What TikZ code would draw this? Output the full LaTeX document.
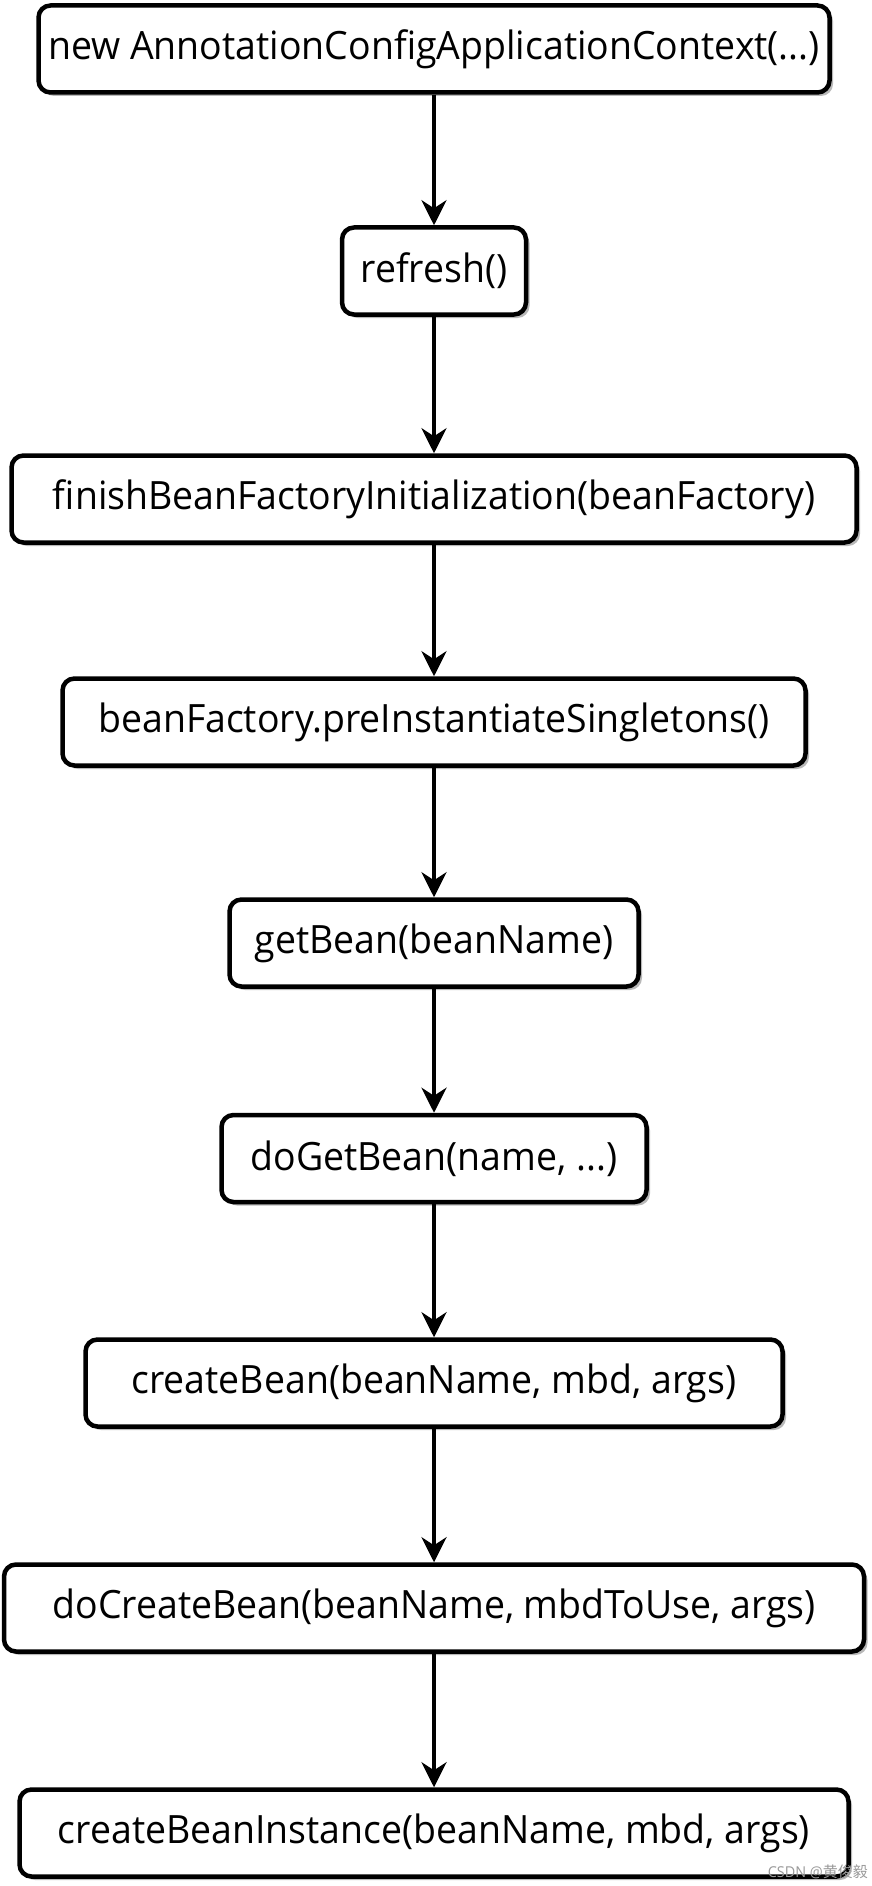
\documentclass[tikz,border=0pt]{standalone}
\usepackage{fontspec}
\setmainfont[FakeStretch=0.96]{Open Sans}
\newfontfamily\cjk{Noto Sans CJK SC}
\usetikzlibrary{arrows.meta,shadows}
\begin{document}
\begin{tikzpicture}[x=1pt,y=-1pt,
  stepbox/.style={draw=black, line width=4.5pt, rounded corners=12pt, fill=white,
    inner sep=0pt, minimum height=87pt,
    drop shadow={shadow xshift=3.5pt, shadow yshift=-3.5pt, fill=black!35, opacity=0.8},
    font=\fontsize{39}{44}\selectfont},
  flow/.style={line width=4pt, -{Stealth[length=25pt,width=25pt,inset=8pt]}}]
\useasboundingbox (0,0) rectangle (872,1886);
\node[stepbox, minimum width=791pt] (n1) at (434,49) {new AnnotationConfigApplicationContext(...)};
\node[stepbox, minimum width=184pt] (n2) at (434,271) {refresh()};
\node[stepbox, minimum width=845pt] (n3) at (434,499) {finishBeanFactoryInitialization(beanFactory)};
\node[stepbox, minimum width=743pt] (n4) at (434,722) {beanFactory.preInstantiateSingletons()};
\node[stepbox, minimum width=409pt] (n5) at (434,943) {getBean(beanName)};
\node[stepbox, minimum width=425pt] (n6) at (434,1158.5) {doGetBean(name, ...)};
\node[stepbox, minimum width=697pt] (n7) at (434,1383) {createBean(beanName, mbd, args)};
\node[stepbox, minimum width=860pt] (n8) at (434,1608) {doCreateBean(beanName, mbdToUse, args)};
\node[stepbox, minimum width=829pt] (n9) at (434,1833) {createBeanInstance(beanName, mbd, args)};
\draw[flow] (n1.south) -- (n2.north);
\draw[flow] (n2.south) -- (n3.north);
\draw[flow] (n3.south) -- (n4.north);
\draw[flow] (n4.south) -- (n5.north);
\draw[flow] (n5.south) -- (n6.north);
\draw[flow] (n6.south) -- (n7.north);
\draw[flow] (n7.south) -- (n8.north);
\draw[flow] (n8.south) -- (n9.north);
\node[anchor=south east, inner sep=0pt, text=black!40, font=\fontsize{15}{17}\selectfont] (wm) at (868,1879) {CSDN @{\cjk 黄俊毅}};
\end{tikzpicture}
\end{document}
